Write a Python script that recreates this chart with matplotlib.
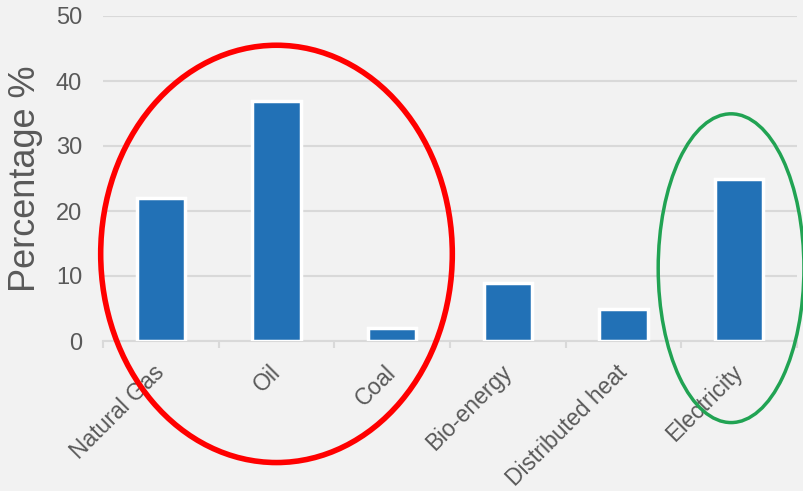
import matplotlib.pyplot as plt
from matplotlib.patches import Ellipse

# data
categories = ["Natural Gas", "Oil", "Coal", "Bio-energy", "Distributed heat", "Electricity"]
values = [22, 37, 2, 9, 5, 25]

plt.rcParams["font.family"] = ["Liberation Sans", "DejaVu Sans"]
text_grey = "#595959"
line_grey = "#d9d9d9"

fig = plt.figure(figsize=(8.04, 4.91), dpi=100, facecolor="#f2f2f2")
ax = fig.add_axes([103 / 804, 1 - 341 / 491, (797 - 103) / 804, (341 - 16) / 491])
ax.set_facecolor("#f2f2f2")

x = list(range(len(categories)))
ax.bar(x, values, width=0.42, color="#2271b6", edgecolor="white", linewidth=2.5, zorder=3)

ax.set_xlim(-0.5, len(categories) - 0.5)
ax.set_ylim(0, 50)
ax.set_yticks([0, 10, 20, 30, 40, 50])
ax.grid(axis="y", color=line_grey, linewidth=1.5, zorder=0)
ax.set_axisbelow(True)

for s in ["top", "right", "left"]:
    ax.spines[s].set_visible(False)
ax.spines["bottom"].set_color(line_grey)
ax.spines["bottom"].set_linewidth(1.5)

# tick marks sit on the category boundaries, labels on the centres
ax.set_xticks([i - 0.5 for i in range(len(categories) + 1)], minor=False)
ax.set_xticklabels([])
ax.tick_params(axis="x", which="major", length=5, width=1.5, color=line_grey)
ax.set_xticks(x, minor=True)
ax.set_xticklabels(categories, minor=True, rotation=45, ha="right", va="center",
                   rotation_mode="anchor", fontsize=16.5, color=text_grey)
ax.tick_params(axis="x", which="minor", length=0, pad=20)

ax.tick_params(axis="y", length=0, pad=15, labelsize=17, labelcolor=text_grey)
ax.set_ylabel("Percentage %", fontsize=26, color=text_grey)
ax.yaxis.set_label_coords(-0.0865, 0.5)

# highlight ellipses (extend outside the axes)
red = Ellipse((1.0, 13.4), 3.04, 64.2, fill=False, edgecolor="#ff0000",
              linewidth=4, clip_on=False, zorder=5)
green = Ellipse((4.93, 11.2), 1.26, 47.5, fill=False, edgecolor="#21a353",
                linewidth=2.5, clip_on=False, zorder=5)
ax.add_patch(red)
ax.add_patch(green)

fig.savefig("out.png", dpi=100, facecolor=fig.get_facecolor())
